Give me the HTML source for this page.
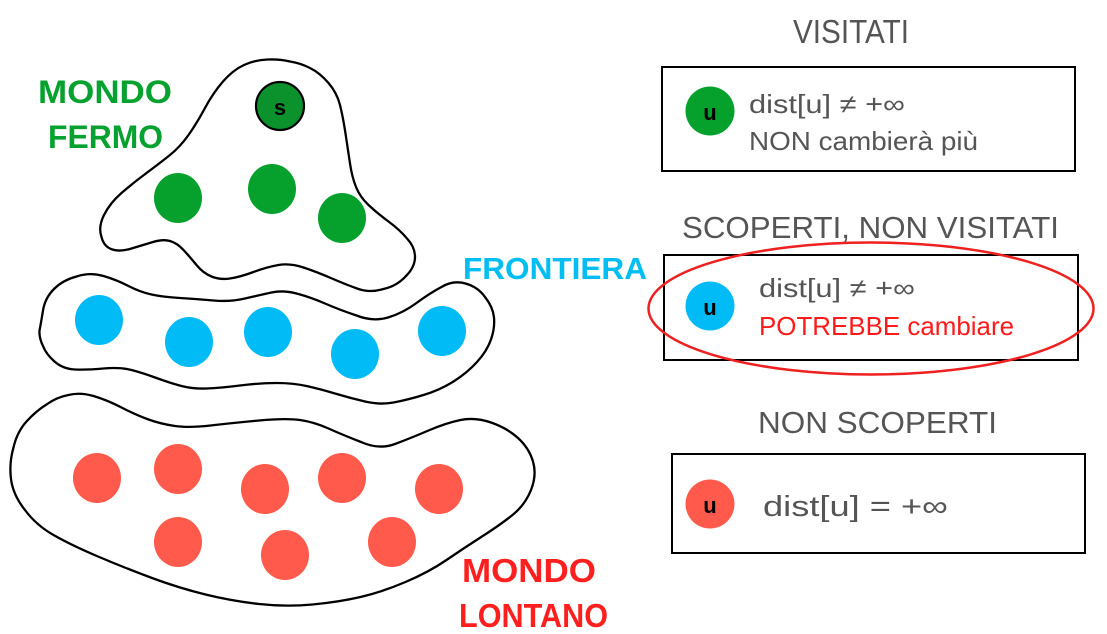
<!DOCTYPE html>
<html>
<head>
<meta charset="utf-8">
<style>
html,body{margin:0;padding:0;background:#fff;}
body{width:1107px;height:634px;overflow:hidden;}
svg{display:block;}
.lbl{font-family:"Liberation Sans",Arial,sans-serif;font-weight:bold;}
.txt{font-family:"Liberation Sans",Arial,sans-serif;fill:#555555;}
.u{font-family:"Liberation Sans",Arial,sans-serif;font-weight:bold;fill:#000;font-size:22px;}
</style>
</head>
<body>
<svg width="1107" height="634" viewBox="0 0 1107 634" xmlns="http://www.w3.org/2000/svg">
  <!-- Top blob (MONDO FERMO) -->
  <path d="M 290,61.5 Q 300,63 310,68 Q 320,73 328.5,83 Q 337,93 340,105 Q 343,117 345.5,133.5 Q 348,150 350,163.5 Q 352,177 356,187 Q 360,197 368.5,205 Q 377,213 388.5,221.5 Q 400,230 407,238.5 Q 415,247 415,257 Q 415,267 406,276 Q 397,286 383.5,289 Q 370,293 358.5,289 Q 347,285 332,278.5 Q 317,272 303.5,267.5 Q 290,263 278.5,265 Q 267,267 253.5,272 Q 240,277 230,278.5 Q 220,280 211.5,276.5 Q 203,273 196.5,265 Q 190,257 183.5,250 Q 177,243 170,241 Q 163,239 153,242 Q 143,245 131.5,248.5 Q 120,252 112.5,249.5 Q 104,247 101.5,237 Q 98,227 104,215 Q 110,203 121.5,193 Q 133,183 146.5,173 Q 160,163 170,155 Q 180,147 188.5,135 Q 197,123 205,108 Q 213,93 223,81.5 Q 233,70 244,65 Q 255,60 267.5,59.5 Q 280,59 290,61.5 Z" fill="none" stroke="#000" stroke-width="2.3"/>

  <!-- Frontier blob -->
  <path d="M 43,310.5 Q 45,298 54,289 Q 63,280 76.5,276.5 Q 90,272 103.5,276 Q 117,280 128.5,286 Q 140,292 151.5,294.5 Q 163,297 180,298 Q 197,299 213.5,300.5 Q 230,302 245,298.5 Q 260,295 271.5,292.5 Q 283,290 296.5,293.5 Q 310,297 325,303.5 Q 340,310 356.5,315.5 Q 373,322 388,317.5 Q 403,313 416.5,303 Q 430,293 441.5,287 Q 453,280 465.5,283.5 Q 478,287 485,297 Q 493,307 494,317.5 Q 495,328 491,339.5 Q 487,351 477,362 Q 467,373 453.5,381.5 Q 440,390 423.5,395 Q 407,400 393.5,402.5 Q 380,405 365,401.5 Q 350,398 335,393.5 Q 320,389 306.5,386 Q 293,383 276.5,383 Q 260,383 240,385.5 Q 220,388 206.5,388.5 Q 193,389 181.5,386 Q 170,383 156.5,378 Q 143,373 131.5,370 Q 120,367 103.5,368.5 Q 87,370 75,369.5 Q 63,369 54.5,361.5 Q 46,354 43,346 Q 39,338 39.5,330.5 Q 41,323 43,310.5 Z" fill="none" stroke="#000" stroke-width="2.3"/>

  <!-- Bottom blob (MONDO LONTANO) -->
  <path d="M 13.5,447.5 Q 17,432 26.5,421.5 Q 36,411 46.5,404.5 Q 57,397 68.5,395 Q 80,392 93.5,396 Q 107,400 121.5,407.5 Q 136,415 148.5,419.5 Q 161,424 175,426 Q 189,428 210.5,425.5 Q 232,423 259,420.5 Q 286,418 300,420 Q 314,422 328.5,428.5 Q 343,435 361,442 Q 379,450 395,444 Q 411,438 428.5,430.5 Q 446,423 460.5,420 Q 475,417 491,422.5 Q 507,428 518,438 Q 529,448 533,461.5 Q 537,475 531,490 Q 525,505 512.5,515 Q 500,525 482,536.5 Q 464,548 446.5,560 Q 429,572 405.5,582 Q 382,592 360.5,597 Q 339,602 312.5,604.5 Q 286,607 259,604 Q 232,601 205.5,594.5 Q 179,588 152,578 Q 125,568 98,556.5 Q 71,545 53.5,535 Q 36,525 25,510 Q 13,495 11,479 Q 9,463 13.5,447.5 Z" fill="none" stroke="#000" stroke-width="2.3"/>

  <!-- Green nodes -->
  <circle cx="280" cy="106" r="24" fill="#0b922d" stroke="#000" stroke-width="2.2"/>
  <text class="u" x="280" y="115" text-anchor="middle" font-size="21">s</text>
  <ellipse cx="178" cy="198" rx="24" ry="25" fill="#05a12c"/>
  <ellipse cx="272" cy="189" rx="24" ry="25" fill="#05a12c"/>
  <ellipse cx="342" cy="218" rx="24" ry="25" fill="#05a12c"/>

  <!-- Blue nodes -->
  <ellipse cx="99" cy="320" rx="24" ry="25" fill="#01bbf6"/>
  <ellipse cx="189" cy="342" rx="24" ry="25" fill="#01bbf6"/>
  <ellipse cx="268" cy="332" rx="24" ry="25" fill="#01bbf6"/>
  <ellipse cx="355" cy="354" rx="24" ry="25" fill="#01bbf6"/>
  <ellipse cx="442" cy="331" rx="24" ry="25" fill="#01bbf6"/>

  <!-- Red nodes -->
  <ellipse cx="97" cy="478" rx="24" ry="25" fill="#ff5a4b"/>
  <ellipse cx="178" cy="469" rx="24" ry="25" fill="#ff5a4b"/>
  <ellipse cx="265" cy="489" rx="24" ry="25" fill="#ff5a4b"/>
  <ellipse cx="342" cy="478" rx="24" ry="25" fill="#ff5a4b"/>
  <ellipse cx="439" cy="489" rx="24" ry="25" fill="#ff5a4b"/>
  <ellipse cx="178" cy="542" rx="24" ry="25" fill="#ff5a4b"/>
  <ellipse cx="285" cy="555" rx="24" ry="25" fill="#ff5a4b"/>
  <ellipse cx="392" cy="542" rx="24" ry="25" fill="#ff5a4b"/>

  <!-- Left labels -->
  <text class="lbl" x="38" y="103" font-size="32" fill="#06a12e" textLength="134" lengthAdjust="spacingAndGlyphs">MONDO</text>
  <text class="lbl" x="48" y="148" font-size="32" fill="#06a12e" textLength="115" lengthAdjust="spacingAndGlyphs">FERMO</text>
  <text class="lbl" x="463" y="279" font-size="31" fill="#00bdf2" textLength="184" lengthAdjust="spacingAndGlyphs">FRONTIERA</text>
  <text class="lbl" x="462" y="582" font-size="33" fill="#ff1f1f" textLength="134" lengthAdjust="spacingAndGlyphs">MONDO</text>
  <text class="lbl" x="459" y="627" font-size="33" fill="#ff1f1f" textLength="149" lengthAdjust="spacingAndGlyphs">LONTANO</text>

  <!-- Right: VISITATI -->
  <text class="txt" x="793" y="43" font-size="33" textLength="116" lengthAdjust="spacingAndGlyphs">VISITATI</text>
  <rect x="662" y="67" width="413" height="104" fill="none" stroke="#000" stroke-width="2"/>
  <circle cx="710" cy="111" r="24.5" fill="#05a12c"/>
  <text class="u" x="710" y="120" text-anchor="middle">u</text>
  <text class="txt" x="749" y="113" font-size="26" textLength="156" lengthAdjust="spacingAndGlyphs">dist[u] ≠ +∞</text>
  <text class="txt" x="749" y="150" font-size="26" textLength="229" lengthAdjust="spacingAndGlyphs">NON cambierà più</text>

  <!-- Right: SCOPERTI, NON VISITATI -->
  <text class="txt" x="682" y="238" font-size="31" textLength="377" lengthAdjust="spacingAndGlyphs">SCOPERTI, NON VISITATI</text>
  <rect x="664" y="255" width="414" height="105" fill="none" stroke="#000" stroke-width="2"/>
  <circle cx="710" cy="306" r="24.5" fill="#01bbf6"/>
  <text class="u" x="710" y="315" text-anchor="middle">u</text>
  <text class="txt" x="759" y="297" font-size="26" textLength="156" lengthAdjust="spacingAndGlyphs">dist[u] ≠ +∞</text>
  <text x="759" y="335" font-size="26" fill="#ff1a1a" font-family="Liberation Sans, Arial, sans-serif" textLength="255" lengthAdjust="spacingAndGlyphs">POTREBBE cambiare</text>
  <ellipse cx="871" cy="308.5" rx="222.5" ry="66" fill="none" stroke="#ef2020" stroke-width="2.5"/>

  <!-- Right: NON SCOPERTI -->
  <text class="txt" x="758" y="433" font-size="31" textLength="239" lengthAdjust="spacingAndGlyphs">NON SCOPERTI</text>
  <rect x="672" y="454" width="413" height="99" fill="none" stroke="#000" stroke-width="2"/>
  <circle cx="710" cy="504" r="24.5" fill="#ff5a4b"/>
  <text class="u" x="710" y="513" text-anchor="middle">u</text>
  <text class="txt" x="763" y="516" font-size="29" textLength="185" lengthAdjust="spacingAndGlyphs">dist[u] = +∞</text>
</svg>
</body>
</html>
